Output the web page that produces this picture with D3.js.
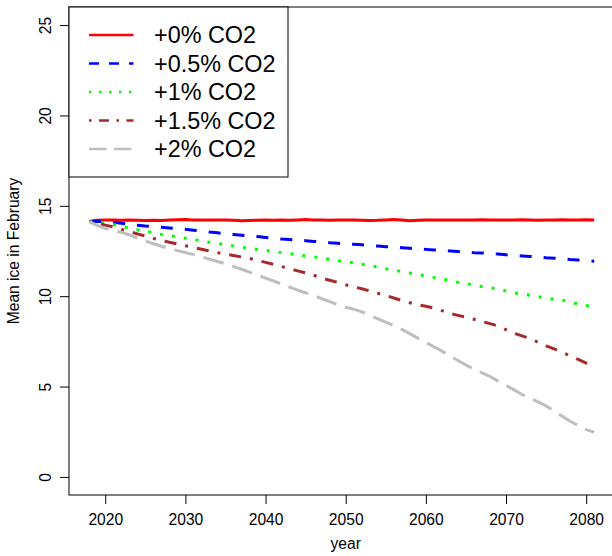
<!DOCTYPE html>
<html>
<head>
<meta charset="utf-8">
<script src="https://cdn.jsdelivr.net/npm/d3@7"></script>
<style>
  html, body { margin: 0; padding: 0; background: #fff; }
  svg { display: block; }
  text { font-family: "Liberation Sans", Arial, Helvetica, sans-serif; fill: #000; }
</style>
</head>
<body>
<svg id="chart" width="612" height="556"></svg>
<script>
// Simulated mean February sea ice under different yearly CO2 increase rates
const years = d3.range(2018, 2082);

const ice0 = [14.13, 14.20, 14.22, 14.21, 14.20, 14.21, 14.20, 14.19, 14.20, 14.19,
  14.21, 14.23, 14.24, 14.22, 14.21, 14.22, 14.21, 14.22, 14.20, 14.17,
  14.19, 14.20, 14.21, 14.20, 14.21, 14.20, 14.22, 14.24, 14.22, 14.21,
  14.20, 14.21, 14.22, 14.21, 14.20, 14.19, 14.20, 14.22, 14.24, 14.22,
  14.18, 14.20, 14.21, 14.21, 14.22, 14.21, 14.22, 14.21, 14.22, 14.23,
  14.22, 14.21, 14.22, 14.21, 14.23, 14.22, 14.20, 14.21, 14.22, 14.23,
  14.22, 14.22, 14.23, 14.22];

const ice05 = [14.13, 14.15, 14.12, 14.09, 14.04, 13.97, 13.93, 13.88, 13.85, 13.81,
  13.77, 13.73, 13.70, 13.65, 13.60, 13.55, 13.51, 13.45, 13.41, 13.37,
  13.33, 13.30, 13.25, 13.20, 13.16, 13.13, 13.10, 13.07, 13.03, 13.00,
  12.96, 12.93, 12.90, 12.87, 12.84, 12.80, 12.77, 12.74, 12.71, 12.68,
  12.65, 12.62, 12.59, 12.56, 12.53, 12.50, 12.47, 12.44, 12.41, 12.39,
  12.37, 12.33, 12.29, 12.26, 12.23, 12.20, 12.17, 12.13, 12.10, 12.07,
  12.03, 12.00, 11.96, 11.93];

const ice1 = [14.13, 14.10, 14.03, 13.97, 13.87, 13.77, 13.68, 13.59, 13.51, 13.42,
  13.35, 13.28, 13.21, 13.14, 13.06, 12.98, 12.91, 12.85, 12.78, 12.71,
  12.64, 12.58, 12.52, 12.47, 12.41, 12.35, 12.29, 12.23, 12.18, 12.11,
  12.04, 11.96, 11.91, 11.85, 11.77, 11.70, 11.62, 11.52, 11.44, 11.36,
  11.28, 11.20, 11.12, 11.04, 10.96, 10.87, 10.77, 10.70, 10.61, 10.53,
  10.47, 10.39, 10.29, 10.18, 10.11, 10.05, 9.97, 9.90, 9.82, 9.78,
  9.68, 9.56, 9.48, 9.42];

const ice15 = [14.13, 14.05, 13.93, 13.83, 13.70, 13.58, 13.45, 13.33, 13.20, 13.09,
  12.98, 12.89, 12.79, 12.70, 12.60, 12.51, 12.41, 12.33, 12.25, 12.17,
  12.09, 11.98, 11.87, 11.76, 11.64, 11.52, 11.40, 11.29, 11.16, 11.01,
  10.88, 10.76, 10.63, 10.52, 10.41, 10.29, 10.16, 10.04, 9.90, 9.76,
  9.64, 9.53, 9.44, 9.34, 9.20, 9.05, 8.94, 8.84, 8.72, 8.60,
  8.48, 8.35, 8.15, 7.95, 7.80, 7.66, 7.45, 7.25, 7.08, 6.90,
  6.70, 6.50, 6.30, 6.12];

const ice2 = [14.13, 13.92, 13.75, 13.63, 13.53, 13.40, 13.22, 13.06, 12.90, 12.76,
  12.64, 12.52, 12.41, 12.30, 12.18, 12.05, 11.92, 11.79, 11.65, 11.49,
  11.33, 11.16, 11.00, 10.84, 10.67, 10.50, 10.34, 10.19, 10.04, 9.87,
  9.70, 9.53, 9.39, 9.28, 9.13, 8.95, 8.75, 8.56, 8.37, 8.16,
  7.93, 7.68, 7.44, 7.20, 6.96, 6.70, 6.44, 6.19, 5.98, 5.76,
  5.56, 5.30, 5.06, 4.82, 4.56, 4.36, 4.15, 3.93, 3.65, 3.36,
  3.08, 2.85, 2.62, 2.48];

const seriesLabels = ["+0% CO2", "+0.5% CO2", "+1% CO2", "+1.5% CO2", "+2% CO2"];
const seriesValues = [ice0, ice05, ice1, ice15, ice2];
const xTicks = [2020, 2030, 2040, 2050, 2060, 2070, 2080];
const yTicks = [0, 5, 10, 15, 20, 25];

// line styles (colour, dash unit pattern like R's lty)
const colors = ["#ff0000", "#0000ff", "#00ff00", "#a52a2a", "#bebebe"];
const dashUnits = [null, [4, 4], [1, 3], [1, 3, 4, 3], [7, 3]];

const svg = d3.select("#chart");
const plot = { left: 69, top: 7, right: 614.4, bottom: 495 };

// R-style 4% padding around data range
const xr = [2018, 2081], xpad = (xr[1] - xr[0]) * 0.04;
const yr = [0, 25], ypad = (yr[1] - yr[0]) * 0.04;
const x = d3.scaleLinear().domain([xr[0] - xpad, xr[1] + xpad]).range([plot.left, plot.right]);
const y = d3.scaleLinear().domain([yr[0] - ypad, yr[1] + ypad]).range([plot.bottom, plot.top]);

const axisFont = 15.6;
const legendFont = 23.4;

// clip for data lines
svg.append("defs").append("clipPath").attr("id", "clip")
  .append("rect").attr("x", plot.left).attr("y", plot.top)
  .attr("width", plot.right - plot.left).attr("height", plot.bottom - plot.top);

const line = d3.line().x((d, i) => x(years[i])).y(d => y(d));

const dashFor = (i, lwd) => dashUnits[i] ? dashUnits[i].map(v => v * lwd).join(",") : null;

const lwdData = 3;
seriesValues.forEach((vals, i) => {
  svg.append("path")
    .datum(vals)
    .attr("clip-path", "url(#clip)")
    .attr("d", line)
    .attr("fill", "none")
    .attr("stroke", colors[i])
    .attr("stroke-width", lwdData)
    .attr("stroke-linejoin", "round")
    .attr("stroke-linecap", "butt")
    .attr("stroke-dasharray", dashFor(i, lwdData));
});

// x axis
const xAxis = d3.axisBottom(x).tickValues(xTicks).tickSize(9).tickPadding(7).tickFormat(d3.format("d"));
const gx = svg.append("g").attr("transform", `translate(0,${plot.bottom})`).call(xAxis);
gx.select(".domain").remove();
gx.selectAll(".tick line").attr("stroke", "#000");
gx.selectAll(".tick text")
  .attr("font-size", axisFont)
  .attr("font-family", null)
  .attr("dy", null)
  .attr("y", 30.3);

// y axis with labels rotated parallel to the axis
const yAxis = d3.axisLeft(y).tickValues(yTicks).tickSize(9).tickFormat(d3.format("d"));
const gy = svg.append("g").attr("transform", `translate(${plot.left},0)`).call(yAxis);
gy.select(".domain").remove();
gy.selectAll(".tick line").attr("stroke", "#000");
gy.selectAll(".tick text")
  .attr("font-size", axisFont)
  .attr("font-family", null)
  .attr("x", null).attr("dy", null)
  .attr("text-anchor", "middle")
  .attr("transform", "translate(-18,0) rotate(-90)");

// plot frame
svg.append("rect")
  .attr("x", plot.left).attr("y", plot.top)
  .attr("width", plot.right - plot.left).attr("height", plot.bottom - plot.top)
  .attr("fill", "none").attr("stroke", "#000").attr("stroke-width", 1);

// axis titles
svg.append("text")
  .attr("x", x(2050)).attr("y", 549)
  .attr("text-anchor", "middle").attr("font-size", axisFont)
  .text("year");

svg.append("text")
  .attr("transform", `translate(19,${(plot.top + plot.bottom) / 2}) rotate(-90)`)
  .attr("text-anchor", "middle").attr("font-size", axisFont)
  .text("Mean ice in February");

// legend
const leg = { x0: 69, y0: 7, x1: 288, y1: 177 };
svg.append("rect")
  .attr("x", leg.x0).attr("y", leg.y0)
  .attr("width", leg.x1 - leg.x0).attr("height", leg.y1 - leg.y0)
  .attr("fill", "#fff").attr("stroke", "#000").attr("stroke-width", 1);

const lwdLeg = 2.5;
const rowY = d3.scaleLinear().domain([0, 4]).range([35, 149]);
seriesLabels.forEach((lab, i) => {
  const yy = rowY(i);
  svg.append("line")
    .attr("x1", 89).attr("x2", 133.5).attr("y1", yy).attr("y2", yy)
    .attr("stroke", colors[i]).attr("stroke-width", lwdLeg)
    .attr("stroke-dasharray", dashFor(i, lwdLeg));
  svg.append("text")
    .attr("x", 154).attr("y", yy + 8.4)
    .attr("font-size", legendFont)
    .text(lab);
});
</script>
</body>
</html>
